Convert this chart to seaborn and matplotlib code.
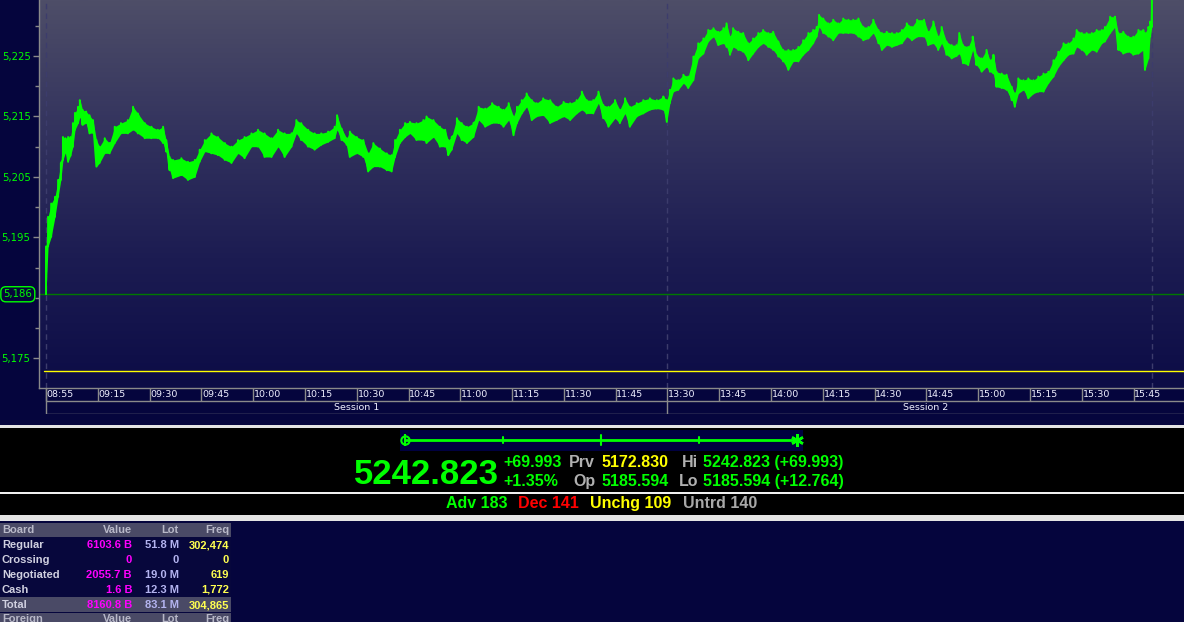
import numpy as np
import pandas as pd
import matplotlib
matplotlib.use("Agg")
import matplotlib.pyplot as plt
import seaborn as sns
from matplotlib.colors import LinearSegmentedColormap
from matplotlib.patches import Rectangle

# intraday index: minute index (0 = 09:00, 180 = 13:30), low and high per sample
minute_idx = [0, 0.6, 1.5, 2.6, 3.5, 4.3, 4.9, 5.6, 6.4, 7.1,
              7.8, 8.4, 9.3, 9.8, 10.6, 11.6, 12.6, 13.6, 14.6, 15.5,
              17, 18.4, 19.9, 21.7, 23.7, 25.2, 26.6, 28.6, 30.5, 32.4,
              33.9, 34.8, 35.8, 36.8, 39.2, 41.1, 43.1, 44.5, 46, 47.9,
              49.8, 51.8, 53.7, 55.6, 57.5, 59.5, 61.4, 63.3, 65.3, 67.2,
              69.1, 71.1, 72.5, 73.9, 75.9, 77.8, 79.7, 81.7, 83.6, 84.3,
              85.6, 87.1, 88, 90, 91.9, 93.3, 94.8, 96.7, 98.7, 100.1,
              101.1, 102.5, 104, 105.4, 107.3, 109.3, 110.2, 112.2, 114.1, 115.6,
              116.5, 117.5, 119, 120.4, 121.9, 123.8, 125.3, 127.2, 129.2, 131.1,
              132.5, 134, 135.4, 136.4, 137.8, 139.2, 140.7, 142.1, 144, 146,
              147.9, 149.9, 151.8, 153.7, 155.2, 156.6, 158.5, 160, 161.4, 162.9,
              164.8, 166.2, 167.7, 169.1, 171.1, 173, 174.9, 176.9, 178.8, 179.8,
              180.7, 181.7, 183.1, 184.6, 186, 187.5, 188.9, 190.4, 191.8, 193.3,
              194.7, 196.2, 197.1, 198.1, 199, 200.5, 201.9, 203.4, 204.8, 206.3,
              207.7, 209.2, 210.6, 212.1, 213.5, 215, 216.4, 217.9, 219.3, 220.8,
              222.2, 223.2, 223.9, 225.1, 226.6, 228, 229.5, 230.9, 232.4, 233.8,
              235.3, 236.7, 238.2, 239.6, 241.1, 242.1, 243.5, 245, 246.4, 247.9,
              249.3, 250.8, 252.3, 254.3, 255.5, 257, 258.4, 259.4, 260.8, 262.3,
              263.7, 264.5, 265.6, 267.1, 268.4, 269.5, 271, 272.4, 273.4, 274.4,
              275.3, 276.8, 278.2, 279.7, 280.6, 281.6, 283.1, 284.5, 286, 287.4,
              288.9, 290.3, 291.8, 293.2, 294.7, 296.1, 297.6, 298.5, 300, 301.4,
              302.9, 304.3, 305.8, 306.7, 308.2, 309.6, 310.6, 312, 313.5, 314.9,
              316.4, 317.8, 318.3, 319.3, 319.8, 320.3]
price_lo = [5185.6, 5193.5, 5195.1, 5198.4, 5201.7, 5204.5, 5207.8, 5209.0, 5207.5, 5208.5,
            5210.0, 5212.8, 5213.9, 5214.9, 5213.6, 5213.9, 5212.2, 5212.3, 5206.7, 5207.3,
            5208.9, 5208.9, 5210.6, 5212.2, 5212.2, 5212.8, 5212.2, 5211.4, 5211.4, 5211.4,
            5210.6, 5209.2, 5206.1, 5204.8, 5205.3, 5204.5, 5205.0, 5207.5, 5209.2, 5208.9,
            5208.6, 5207.8, 5207.3, 5208.9, 5208.1, 5210.0, 5210.0, 5208.3, 5208.3, 5210.0,
            5208.3, 5210.0, 5212.2, 5211.1, 5210.0, 5209.5, 5210.3, 5210.8, 5211.4, 5212.8,
            5211.1, 5210.3, 5208.3, 5208.9, 5208.3, 5205.9, 5206.7, 5206.7, 5206.1, 5205.9,
            5208.3, 5210.6, 5211.6, 5212.2, 5211.1, 5211.1, 5210.6, 5211.6, 5210.0, 5210.0,
            5208.6, 5209.5, 5212.2, 5211.1, 5210.6, 5211.6, 5214.4, 5213.3, 5213.9, 5213.9,
            5213.3, 5214.4, 5211.9, 5213.9, 5215.5, 5216.6, 5214.4, 5215.0, 5215.2, 5213.9,
            5214.4, 5215.0, 5214.4, 5215.5, 5216.1, 5215.5, 5215.5, 5217.2, 5214.7, 5213.3,
            5214.7, 5213.9, 5215.5, 5213.3, 5215.0, 5215.5, 5216.1, 5216.3, 5216.1, 5214.1,
            5217.2, 5219.1, 5219.4, 5220.5, 5219.7, 5221.0, 5224.6, 5225.4, 5227.4, 5228.2,
            5226.8, 5227.1, 5226.5, 5225.2, 5226.5, 5226.0, 5225.7, 5224.3, 5225.4, 5226.5,
            5227.1, 5226.5, 5226.0, 5224.9, 5224.1, 5222.7, 5224.1, 5224.1, 5225.2, 5226.0,
            5227.1, 5228.2, 5229.8, 5228.8, 5228.2, 5227.6, 5228.8, 5228.8, 5228.8, 5228.8,
            5228.2, 5227.6, 5227.9, 5228.8, 5227.1, 5226.0, 5226.8, 5226.5, 5226.8, 5227.1,
            5228.2, 5227.6, 5228.2, 5228.2, 5226.8, 5227.1, 5226.0, 5227.1, 5225.2, 5224.6,
            5225.0, 5225.4, 5223.8, 5223.5, 5226.0, 5223.5, 5222.4, 5223.2, 5222.4, 5222.1,
            5219.9, 5219.7, 5219.4, 5217.7, 5216.6, 5218.8, 5219.4, 5218.0, 5218.8, 5219.1,
            5219.1, 5220.5, 5221.6, 5223.2, 5224.3, 5225.2, 5225.4, 5226.5, 5226.0, 5225.2,
            5226.0, 5225.7, 5227.1, 5227.4, 5228.8, 5229.8, 5226.0, 5225.4, 5225.7, 5225.2,
            5225.4, 5226.0, 5222.7, 5224.6, 5228.2, 5229.8]
price_hi = [5193.5, 5198.4, 5200.6, 5201.7, 5204.5, 5207.3, 5211.6, 5211.4, 5211.6, 5211.6,
            5213.9, 5215.6, 5216.6, 5217.7, 5216.1, 5215.8, 5215.2, 5214.4, 5211.1, 5210.0,
            5211.4, 5210.6, 5213.3, 5213.9, 5214.4, 5216.6, 5215.5, 5213.9, 5213.3, 5212.8,
            5213.3, 5211.1, 5208.3, 5207.8, 5208.1, 5207.5, 5207.8, 5209.5, 5211.1, 5212.2,
            5211.6, 5210.6, 5210.0, 5211.1, 5211.6, 5212.2, 5212.8, 5212.2, 5211.4, 5212.8,
            5212.2, 5212.2, 5214.4, 5213.9, 5212.8, 5212.2, 5212.2, 5212.5, 5213.3, 5215.2,
            5213.0, 5211.4, 5212.5, 5211.6, 5211.1, 5208.9, 5210.6, 5209.7, 5208.9, 5208.6,
            5211.1, 5212.8, 5213.9, 5214.1, 5213.9, 5214.4, 5215.0, 5214.4, 5213.3, 5212.8,
            5211.1, 5211.6, 5214.7, 5213.9, 5213.3, 5213.9, 5216.6, 5216.3, 5217.2, 5216.6,
            5216.1, 5217.2, 5215.0, 5216.6, 5217.7, 5218.8, 5217.7, 5217.2, 5218.0, 5217.7,
            5216.6, 5217.4, 5217.2, 5217.7, 5219.1, 5217.7, 5217.7, 5219.1, 5216.9, 5216.6,
            5217.7, 5216.1, 5218.0, 5216.6, 5217.2, 5217.7, 5218.0, 5217.7, 5218.3, 5217.7,
            5219.4, 5221.3, 5221.0, 5221.9, 5221.6, 5224.9, 5227.1, 5227.9, 5229.3, 5229.6,
            5229.0, 5229.6, 5230.4, 5228.2, 5229.6, 5229.0, 5228.8, 5227.1, 5227.9, 5228.8,
            5229.3, 5228.8, 5229.0, 5227.4, 5226.0, 5226.0, 5226.0, 5226.5, 5227.6, 5228.8,
            5229.3, 5229.8, 5231.8, 5231.2, 5230.4, 5231.0, 5230.4, 5231.2, 5231.0, 5231.0,
            5231.2, 5229.8, 5229.8, 5231.0, 5229.3, 5228.8, 5229.0, 5228.8, 5228.8, 5229.3,
            5230.4, 5229.8, 5231.0, 5231.0, 5229.0, 5230.7, 5228.2, 5229.8, 5227.4, 5226.8,
            5226.8, 5228.8, 5226.8, 5226.5, 5228.2, 5225.2, 5224.6, 5226.0, 5224.3, 5225.2,
            5222.4, 5222.1, 5221.9, 5219.9, 5218.8, 5221.3, 5221.0, 5221.3, 5221.0, 5221.6,
            5222.1, 5222.4, 5224.3, 5225.7, 5227.1, 5227.1, 5227.9, 5229.3, 5228.8, 5228.8,
            5228.8, 5229.3, 5229.3, 5229.8, 5231.5, 5231.5, 5228.8, 5229.0, 5228.2, 5228.2,
            5229.3, 5229.3, 5228.8, 5229.8, 5230.7, 5242.8]

x_tick_labels = ["08:55", "09:15", "09:30", "09:45", "10:00", "10:15", "10:30", "10:45",
                 "11:00", "11:15", "11:30", "11:45", "13:30", "13:45", "14:00", "14:15",
                 "14:30", "14:45", "15:00", "15:15", "15:30", "15:45"]
y_ticks = [5175, 5195, 5205, 5215, 5225]
y_minor = [5180, 5185, 5190, 5200, 5210, 5220, 5230]
sessions = ["Session 1", "Session 2"]

last = 5242.823
change = 69.993
change_pct = 1.35
prev_close = 5172.830
open_px = 5185.594
high_px = 5242.823
low_px = 5185.594
breadth_names = ["Adv", "Dec", "Unchg", "Untrd"]
breadth_counts = [183, 141, 109, 140]

boards = ["Regular", "Crossing", "Negotiated", "Cash", "Total"]
board_value = ["6103.6 B", "0", "2055.7 B", "1.6 B", "8160.8 B"]
board_lot = ["51.8 M", "0", "19.0 M", "12.3 M", "83.1 M"]
board_freq = ["302,474", "0", "619", "1,772", "304,865"]


def to_idx(label):
    h, m = map(int, label.split(":"))
    mins = h * 60 + m
    if mins < 13 * 60:
        return max(mins - 9 * 60, 0)
    return 180 + mins - (13 * 60 + 30)


GREEN = "#00ff00"
NAVY = "#05053d"
GRID = "#8a8a8a"

sns.set_theme(style="dark", rc={"figure.facecolor": NAVY, "axes.facecolor": NAVY})
plt.rcParams["font.family"] = ["DejaVu Sans"]

W, H = 1184, 622
fig = plt.figure(figsize=(W / 100, H / 100), dpi=100)

# ---- main chart
x0, x1 = -2.03, 329.6
y0, y1 = 5170.09, 5234.26
ax = fig.add_axes([39 / W, 1 - 388 / H, (W - 39) / W, 388 / H])

bg = LinearSegmentedColormap.from_list("bg", ["#0c0c46", "#1c1c52", "#33335e", "#4e4e68"])
ax.imshow(np.linspace(0, 1, 256).reshape(-1, 1), extent=[x0, x1, y0, y1], origin="lower",
          aspect="auto", cmap=bg, zorder=0)

for t in [0, 180, 320.3]:
    ax.axvline(t, color="#3c3c6c", lw=1, ls=(0, (4, 3)), zorder=1)
ax.axhline(open_px, color="#007800", lw=1, zorder=1)
ax.axhline(prev_close, xmin=0.004, color="#ffff00", lw=1, zorder=1)

ax.fill_between(minute_idx, price_lo, price_hi, color=GREEN, lw=0, zorder=3)
zz = pd.DataFrame({"minute": np.repeat(minute_idx, 2),
                   "price": np.column_stack([price_lo, price_hi]).ravel()})
sns.lineplot(data=zz, x="minute", y="price", sort=False, estimator=None,
             color=GREEN, lw=1.4, ax=ax, legend=False, zorder=4)

ax.set_xlim(x0, x1)
ax.set_ylim(y0, y1)
ax.set_xlabel("")
ax.set_ylabel("")
ax.set_xticks([])
ax.set_yticks(y_ticks)
ax.set_yticklabels([f"{v:,}" for v in y_ticks])
ax.set_yticks(y_minor, minor=True)
ax.tick_params(axis="y", which="both", left=True, direction="out", color=GRID,
               labelcolor=GREEN, labelsize=7.3, pad=2, width=1)
ax.tick_params(axis="y", which="major", length=4)
ax.tick_params(axis="y", which="minor", length=3)
ax.grid(False)
for side in ["top", "right"]:
    ax.spines[side].set_visible(False)
for side in ["left", "bottom"]:
    ax.spines[side].set_visible(True)
    ax.spines[side].set_color(GRID)
    ax.spines[side].set_linewidth(1)

ax.text(-0.0185, open_px, f"{round(open_px):,}", transform=ax.get_yaxis_transform(),
        ha="center", va="center", color=GREEN, fontsize=7.3, clip_on=False, zorder=6,
        bbox=dict(boxstyle="round,pad=0.25,rounding_size=0.5", fc="#06063a", ec=GREEN, lw=1))

# ---- time axis rows
axx = fig.add_axes([39 / W, 1 - 414 / H, (W - 39) / W, 26 / H])
axx.set_xlim(x0, x1)
axx.set_ylim(0, 2)
axx.axis("off")
axx.hlines([1, 0], 0, x1, color=GRID, lw=1)
for lab in x_tick_labels:
    t = to_idx(lab)
    axx.vlines(t, 1, 2, color=GRID, lw=1)
    axx.text(t + 0.2, 1.5, lab, ha="left", va="center", color="#f0f0ff", fontsize=6.8)
axx.vlines(0, 0, 2, color=GRID, lw=1)
axx.vlines(180, 0, 1, color=GRID, lw=1)
axx.text(90, 0.5, sessions[0], ha="center", va="center", color="#f0f0ff", fontsize=6.8)
axx.text((180 + x1) / 2, 0.5, sessions[1], ha="center", va="center", color="#f0f0ff", fontsize=6.8)

# ---- quote panel and board table (pixel coordinates)
axb = fig.add_axes([0, 0, 1, (H - 414) / H])
axb.set_xlim(0, W)
axb.set_ylim(H, 414)
axb.axis("off")


def rect(x, y, w, h, c):
    axb.add_patch(Rectangle((x, y), w, h, color=c, lw=0))


rect(0, 425, W, 3, "#e4e4e4")
rect(0, 428, W, 64, "#000000")
rect(0, 492, W, 2, "#f0f0f0")
rect(0, 494, W, 21, "#000000")
rect(0, 515, W, 6, "#e4e4e4")

rect(400, 430, 403, 21, "#000040")
axb.plot([405, 797], [440, 440], color=GREEN, lw=2)
for gx, half in [(503, 3), (601, 5), (699, 3)]:
    axb.plot([gx, gx], [440 - half, 440 + half], color=GREEN, lw=1.5)
axb.plot(405, 440, marker="o", ms=6, mfc="none", mec=GREEN, mew=1.5)
axb.plot(405, 440, marker="|", ms=8, mec=GREEN, mew=1.5)
axb.plot(797, 440, marker=(6, 2, 0), ms=9, mec=GREEN, mew=1.8)

bold = dict(family=["Liberation Sans", "DejaVu Sans"], weight="bold")
axb.text(426, 484, f"{last:.3f}", ha="center", va="baseline", color=GREEN, fontsize=25, **bold)
fs = 11.5
axb.text(503, 467, f"+{change:.3f}", ha="left", va="baseline", color=GREEN, fontsize=fs, **bold)
axb.text(503, 486, f"+{change_pct:.2f}%", ha="left", va="baseline", color=GREEN, fontsize=fs, **bold)
axb.text(595, 467, "Prv", ha="right", va="baseline", color="#b0b0b0", fontsize=fs, **bold)
axb.text(601, 467, f"{prev_close:.3f}", ha="left", va="baseline", color="#ffff00", fontsize=fs, **bold)
axb.text(595, 486, "Op", ha="right", va="baseline", color="#b0b0b0", fontsize=fs, **bold)
axb.text(601, 486, f"{open_px:.3f}", ha="left", va="baseline", color=GREEN, fontsize=fs, **bold)
axb.text(698, 467, "Hi", ha="right", va="baseline", color="#b0b0b0", fontsize=fs, **bold)
axb.text(703, 467, f"{high_px:.3f} (+{high_px - prev_close:.3f})", ha="left", va="baseline",
         color=GREEN, fontsize=fs, **bold)
axb.text(698, 486, "Lo", ha="right", va="baseline", color="#b0b0b0", fontsize=fs, **bold)
axb.text(703, 486, f"{low_px:.3f} (+{low_px - prev_close:.3f})", ha="left", va="baseline",
         color=GREEN, fontsize=fs, **bold)

breadth_x = [446, 518, 590, 683]
breadth_col = [GREEN, "#ff0000", "#ffff00", "#a8a8a8"]
for bx, name, cnt, col in zip(breadth_x, breadth_names, breadth_counts, breadth_col):
    axb.text(bx, 508, f"{name} {cnt}", ha="left", va="baseline", color=col, fontsize=fs, **bold)

# board table
rect(0, 523, 231, 14, "#4a4a66")
rect(0, 537, 231, 60, "#07073c")
rect(0, 597, 231, 15, "#4a4a66")
rect(0, 613, 231, 9, "#4a4a66")
tfs = 8
head = ["Board", "Value", "Lot", "Freq"]
col_x = [2, 132, 179, 229]
for yy, names in [(530, head), (619, ["Foreign", "Value", "Lot", "Freq"])]:
    for i, nm in enumerate(names):
        axb.text(col_x[i], yy, nm, ha="left" if i == 0 else "right", va="center",
                 color="#b8b8c8", fontsize=tfs, **bold)
for i, b in enumerate(boards):
    yy = 545 + 15 * i
    axb.text(col_x[0], yy, b, ha="left", va="center", color="#d0d0e0", fontsize=tfs, **bold)
    axb.text(col_x[1], yy, board_value[i], ha="right", va="center", color="#ff00ff", fontsize=tfs, **bold)
    axb.text(col_x[2], yy, board_lot[i], ha="right", va="center", color="#b4b4f0", fontsize=tfs, **bold)
    axb.text(col_x[3], yy, board_freq[i], ha="right", va="center", color="#ffff50", fontsize=tfs, **bold)

fig.savefig("out.png", dpi=100, facecolor=NAVY)
